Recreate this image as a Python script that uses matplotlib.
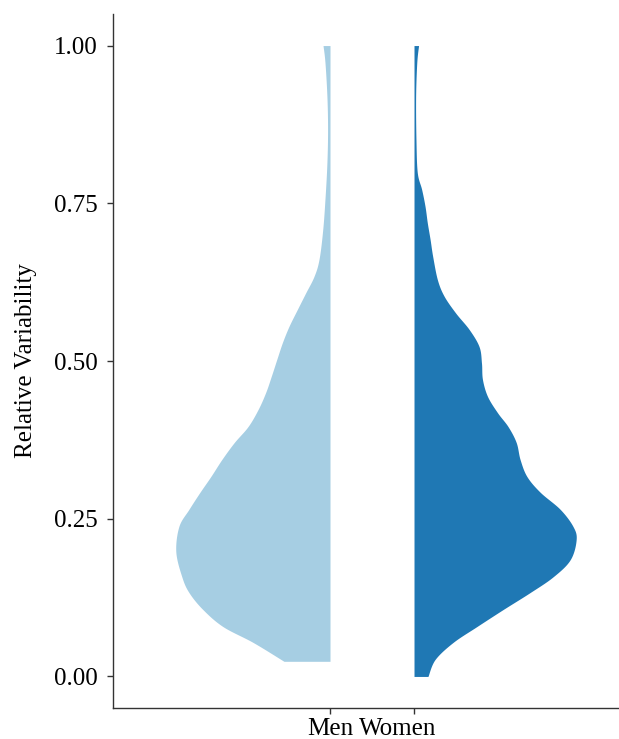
import numpy as np
import matplotlib
matplotlib.use("Agg")
import matplotlib.pyplot as plt
from matplotlib.transforms import ScaledTranslation

plt.rcParams["font.family"] = ["Liberation Serif", "DejaVu Serif"]

groups = ["Men", "Women"]
colors = ["#a6cee3", "#1f78b4"]

# Kernel density profiles (normalised) along relative variability
men_level = [0.024, 0.054, 0.079, 0.106, 0.133, 0.158, 0.198, 0.238, 0.265,
             0.292, 0.317, 0.344, 0.371, 0.396, 0.423, 0.450, 0.476, 0.502,
             0.529, 0.555, 0.582, 0.608, 0.634, 0.661, 0.708, 0.761, 0.815,
             0.867, 0.919, 0.973, 1.000]
men_density = [0.284, 0.475, 0.660, 0.784, 0.870, 0.914, 0.951, 0.932, 0.870,
               0.802, 0.735, 0.667, 0.590, 0.506, 0.444, 0.397, 0.362, 0.329,
               0.294, 0.253, 0.201, 0.150, 0.099, 0.068, 0.045, 0.030, 0.019,
               0.015, 0.019, 0.031, 0.043]

women_level = [0.000, 0.027, 0.054, 0.079, 0.106, 0.133, 0.158, 0.185, 0.217,
               0.238, 0.265, 0.292, 0.317, 0.344, 0.371, 0.396, 0.418, 0.444,
               0.471, 0.497, 0.523, 0.550, 0.576, 0.603, 0.629, 0.666, 0.693,
               0.719, 0.745, 0.772, 0.799, 0.851, 0.919, 0.973, 1.000]
women_density = [0.086, 0.130, 0.241, 0.387, 0.549, 0.716, 0.858, 0.963, 1.000,
                 0.980, 0.901, 0.778, 0.696, 0.654, 0.630, 0.580, 0.515, 0.453,
                 0.422, 0.416, 0.401, 0.340, 0.257, 0.185, 0.144, 0.115, 0.099,
                 0.082, 0.068, 0.047, 0.020, 0.012, 0.010, 0.017, 0.028]

half_width = 1.93  # peak half-width in category units
positions = np.arange(len(groups))


def catmull_rom(xs, ys, steps=16):
    """Smooth curve through the given points (Catmull-Rom spline)."""
    p = np.column_stack([xs, ys]).astype(float)
    p = np.vstack([p[0], p, p[-1]])
    out = []
    t = np.linspace(0, 1, steps, endpoint=False)[:, None]
    for i in range(1, len(p) - 2):
        p0, p1, p2, p3 = p[i - 1], p[i], p[i + 1], p[i + 2]
        seg = 0.5 * ((2 * p1) + (-p0 + p2) * t
                     + (2 * p0 - 5 * p1 + 4 * p2 - p3) * t ** 2
                     + (-p0 + 3 * p1 - 3 * p2 + p3) * t ** 3)
        out.append(seg)
    out.append(p[-2][None, :])
    c = np.vstack(out)
    return c[:, 0], c[:, 1]


fig = plt.figure(figsize=(6.19, 7.39), dpi=100)
ax = fig.add_axes([113 / 619, 31 / 739, (619 - 113) / 619, (708 - 14) / 739])

profiles = [(men_level, men_density, -1), (women_level, women_density, 1)]
for pos, col, (lvl, dens, side) in zip(positions, colors, profiles):
    yy, dd = catmull_rom(lvl, dens)
    w = np.clip(dd, 0, None) * half_width
    ax.fill_betweenx(yy, pos, pos + side * w, color=col, linewidth=0)

ax.set_xlim(-2.583, 3.44)
ax.set_ylim(-0.05, 1.05)
ax.set_xticks(positions)
ax.set_xticklabels(groups)
ax.set_yticks([0, 0.25, 0.5, 0.75, 1.0])
ax.set_yticklabels(["0.00", "0.25", "0.50", "0.75", "1.00"])
ax.set_ylabel("Relative Variability", fontsize=18, labelpad=12)

for s in ["top", "right"]:
    ax.spines[s].set_visible(False)
for s in ["left", "bottom"]:
    ax.spines[s].set_color("#333333")
    ax.spines[s].set_linewidth(1.0)
ax.tick_params(axis="both", colors="#333333", length=4, width=1.0,
               labelsize=18, labelcolor="black")
ax.tick_params(axis="y", pad=7)
ax.tick_params(axis="x", pad=3)

# keep the two category names snug beneath their ticks
labels = ax.get_xticklabels()
labels[1].set_transform(labels[1].get_transform()
                        + ScaledTranslation(-16 / 100, 0, fig.dpi_scale_trans))

fig.savefig("out.png", dpi=100)
